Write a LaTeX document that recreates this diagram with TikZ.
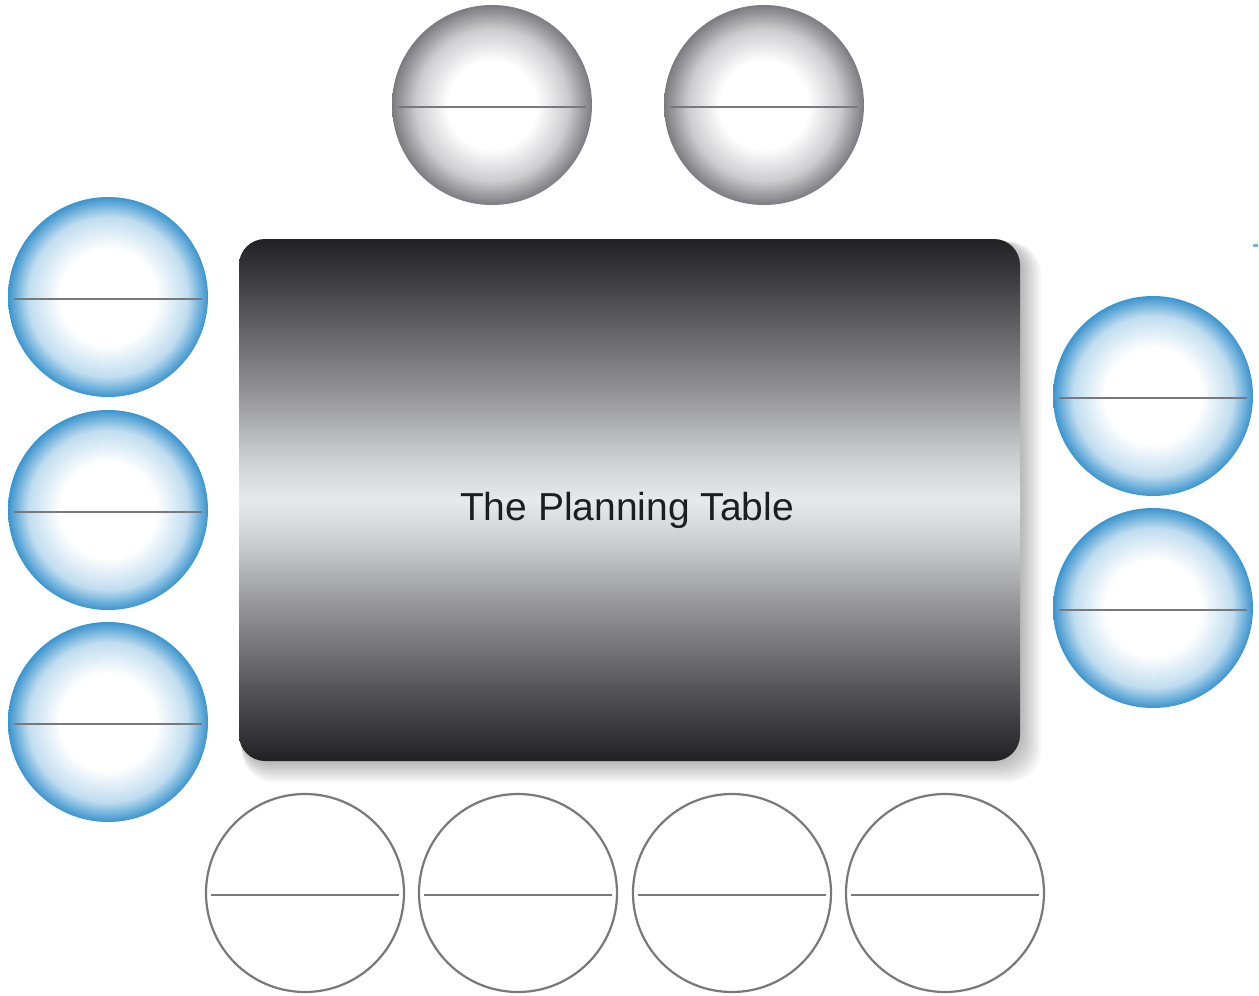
\documentclass[tikz,border=0pt]{standalone}
\usepackage{fontspec}
\setmainfont{Liberation Sans}
\usetikzlibrary{calc}
\definecolor{sphgray}{RGB}{122,122,128}
\definecolor{sphblue}{RGB}{58,148,206}
\definecolor{linegray}{RGB}{120,120,125}
\definecolor{tdark}{RGB}{33,33,35}
\definecolor{tq1}{RGB}{78,78,81}
\definecolor{tq2}{RGB}{150,150,154}
\definecolor{tq3}{RGB}{205,206,210}
\definecolor{tlight}{RGB}{232,233,237}
\definecolor{txt}{RGB}{30,30,32}
\pgfdeclareradialshading{graysph}{\pgfpoint{0bp}{0bp}}{color(0bp)=(white); color(11bp)=(white); color(19bp)=(sphgray!38); color(25bp)=(sphgray); color(50bp)=(sphgray)}
\pgfdeclareradialshading{bluesph}{\pgfpoint{0bp}{0bp}}{color(0bp)=(white); color(12bp)=(white); color(20bp)=(sphblue!32); color(25bp)=(sphblue); color(50bp)=(sphblue)}
\pgfdeclareverticalshading{tablesh}{100bp}{color(0bp)=(tdark); color(25bp)=(tdark); color(31bp)=(tq1); color(40bp)=(tq2); color(46bp)=(tq3); color(50bp)=(tlight); color(54bp)=(tq3); color(60bp)=(tq2); color(69bp)=(tq1); color(75bp)=(tdark); color(100bp)=(tdark)}
\tikzset{
  seat/.style={circle, minimum size=200pt, inner sep=0pt},
  graysphere/.style={seat, shading=graysph},
  bluesphere/.style={seat, shading=bluesph},
  plainseat/.style={seat, draw=linegray, line width=2.2pt, fill=white, minimum size=198pt},
  divider/.style={draw=linegray, line width=2pt},
  tablebox/.style={rectangle, rounded corners=26pt, minimum width=781pt, minimum height=522pt, inner sep=0pt, shading=tablesh},
  label/.style={font=\fontsize{39}{44}\selectfont, text=txt, inner sep=0pt},
  shadowlayer/.style={fill=black, opacity=0.03, rounded corners=32pt}
}
\begin{document}
\begin{tikzpicture}[x=1pt,y=-1pt]
\useasboundingbox (0,0) rectangle (1259,996);
% table shadow
\foreach \s in {1,...,10}{
  \fill[shadowlayer] (239+\s*1.2-\s*0.9, 239+\s*1.2-\s*0.9) rectangle (1020+\s*1.2+\s*0.9, 761+\s*1.2+\s*0.9);
}
\node[tablebox] (tbl) at (629.5,500) {};
\node[label, anchor=base] (title) at (627,520) {The Planning Table};
% top gray seats
\node[graysphere] (g1) at (492,105) {};
\node[graysphere] (g2) at (764,105) {};
% left blue seats
\node[bluesphere] (l1) at (108,297) {};
\node[bluesphere] (l2) at (108,510) {};
\node[bluesphere] (l3) at (108,722) {};
% right blue seats
\node[bluesphere] (r1) at (1153,396) {};
\node[bluesphere] (r2) at (1153,608) {};
% bottom plain seats
\node[plainseat] (b1) at (305,893) {};
\node[plainseat] (b2) at (518,893) {};
\node[plainseat] (b3) at (732,893) {};
\node[plainseat] (b4) at (945,893) {};
% divider lines
\foreach \n in {g1,g2,l1,l2,l3,r1,r2}{
  \draw[divider] ($(\n.center)+(-94,2)$) -- ($(\n.center)+(94,2)$);
}
\foreach \n in {b1,b2,b3,b4}{
  \draw[divider] ($(\n.center)+(-94,2)$) -- ($(\n.center)+(94,2)$);
}
% small blue mark
\fill[sphblue!70] (1253,244) rectangle (1258,246.5);
\end{tikzpicture}
\end{document}
